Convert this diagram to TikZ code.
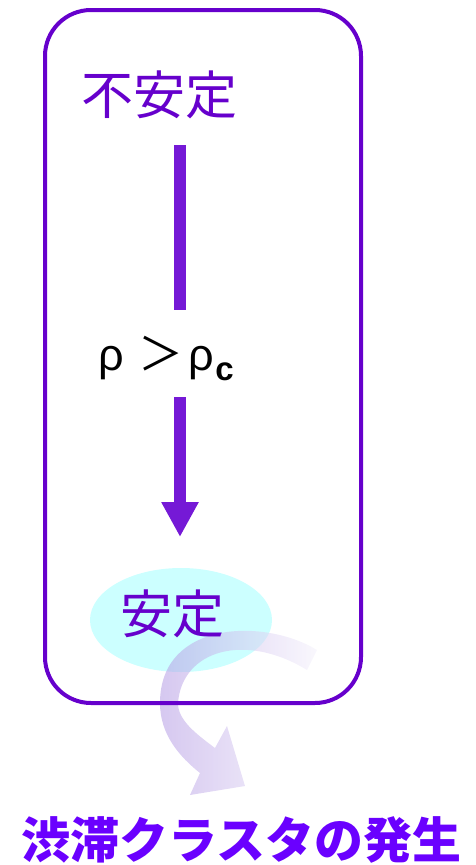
\documentclass[tikz,border=0pt]{standalone}
\usepackage{fontspec}
\usetikzlibrary{shapes.geometric,arrows.meta}
\newfontfamily\cjk{Noto Sans CJK JP}
\newfontfamily\arialf{Liberation Sans}
\definecolor{boxviolet}{HTML}{6600CC}
\definecolor{arrowviolet}{HTML}{7519D6}
\definecolor{titleviolet}{HTML}{6A00FF}
\definecolor{ellcyan}{HTML}{CCFFFF}
\definecolor{bandL}{HTML}{B49BE4}
\definecolor{bandM}{HTML}{C3ADE9}
\definecolor{bandR}{HTML}{F4F1FB}
\tikzset{
  jp/.style={inner sep=0pt, text=boxviolet, font=\cjk\fontsize{52}{52}\selectfont},
  mainline/.style={line width=12pt, draw=arrowviolet},
  framebox/.style={draw=boxviolet, line width=4pt, rounded corners=46pt},
}
\begin{document}
\begin{tikzpicture}[x=1pt,y=-1pt]
\useasboundingbox (0,0) rectangle (475,865);
% stable ellipse
\node[ellipse, fill=ellcyan, inner sep=0pt, minimum width=182pt, minimum height=104pt] (ell) at (181,620) {};
% translucent curved arrow
\shade[left color=bandL, middle color=bandM, right color=bandR, fill opacity=0.55]
  (317,650) .. controls (265,618) and (160,620) .. (160,703)
  .. controls (160,735) and (180,757) .. (200,773)
  -- (190,795) -- (245,786) -- (227,726) -- (215,748)
  .. controls (195,733) and (178,720) .. (178,703)
  .. controls (182,650) and (245,632) .. (307,670) -- cycle;
% texts
\node[jp] (unstable) at (159,95) {不安定};
\node[jp] (stable) at (172.5,613.5) {安定};
\node[inner sep=0pt, anchor=base west, font=\arialf\fontsize{45}{45}\selectfont] (cond) at (98,370)
  {ρ\hspace{15pt}{\cjk ＞}\hspace{5pt}ρ\hspace{1pt}\raisebox{-10pt}{\fontsize{33}{33}\selectfont\bfseries c}};
\node[inner sep=0pt, text=titleviolet, font=\cjk\bfseries\fontsize{49}{49}\selectfont] (title) at (241.5,840) {渋滞クラスタの発生};
% main arrow
\coordinate (a1) at (180,145);
\coordinate (a2) at (180,310);
\coordinate (a3) at (180,397);
\coordinate (a4) at (180,537);
\draw[mainline] (a1) -- (a2);
\draw[mainline, -{Triangle[width=35pt,length=35pt]}] (a3) -- (a4);
% frame
\draw[framebox] (45,10) rectangle (361,703);
\end{tikzpicture}
\end{document}
